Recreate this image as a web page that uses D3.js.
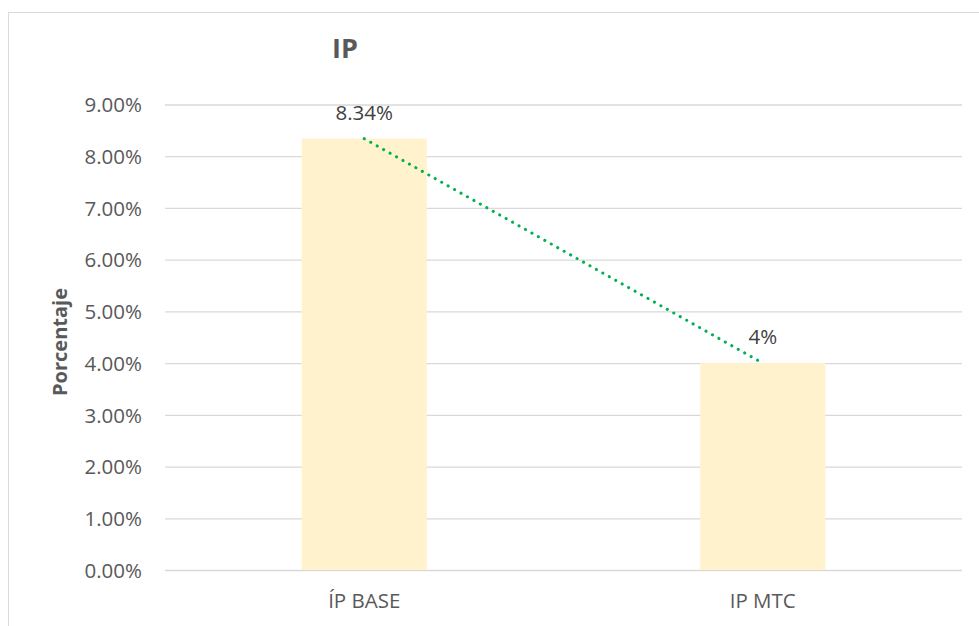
<!DOCTYPE html>
<html>
<head>
  <meta charset="utf-8">
  <script src="https://d3js.org/d3.v7.min.js"></script>
  <style type="text/css">
  body { margin: 0; background: #fff; }
  svg { display: block; font-family: "Open Sans", sans-serif; }
  .grid line { stroke: #d9d9d9; stroke-width: 1.3; }
  .grid path { display: none; }
  .yaxis path, .yaxis line { display: none; }
  .xaxis path, .xaxis line { display: none; }
  .yaxis text, .xaxis text { fill: #595959; font-size: 20.5px; font-family: "Open Sans", sans-serif; }
  </style>
</head>
<body>
  <script type="text/javascript">
    // chart data
    var categories = ["ÍP BASE", "IP MTC"];
    var values = [8.34, 4];
    var valueLabels = ["8.34%", "4%"];
    var yTicks = [0, 1, 2, 3, 4, 5, 6, 7, 8, 9];

    var width = 979, height = 626;
    var margin = {top: 104.5, right: 17, bottom: 56, left: 165};

    var svg = d3.select("body").append("svg")
      .attr("width", width)
      .attr("height", height);

    // chart border (only left and top visible in the frame)
    svg.append("rect")
      .attr("x", 8.5).attr("y", 12.5)
      .attr("width", 1000).attr("height", 700)
      .attr("fill", "none")
      .attr("stroke", "#d9d9d9")
      .attr("stroke-width", 1);

    var x = d3.scaleBand()
      .domain(categories)
      .range([margin.left, width - margin.right])
      .paddingInner(0.686)
      .paddingOuter(0.343);

    var y = d3.scaleLinear()
      .domain([0, 9])
      .range([height - margin.bottom, margin.top]);

    // gridlines
    svg.append("g")
      .attr("class", "grid")
      .attr("transform", "translate(" + margin.left + ",0)")
      .call(d3.axisRight(y).tickValues(yTicks).tickSize(width - margin.right - margin.left).tickFormat(""));

    // y axis labels
    svg.append("g")
      .attr("class", "yaxis")
      .attr("transform", "translate(" + (margin.left - 23) + ",0)")
      .call(d3.axisLeft(y).tickValues(yTicks).tickSize(0).tickPadding(0).tickFormat(function(d) { return d3.format(".2f")(d) + "%"; }))
      .selectAll("text").attr("dy", "0.35em");

    // bars
    svg.selectAll(".bar")
      .data(values)
      .enter().append("rect")
      .attr("class", "bar")
      .attr("x", function(d, i) { return x(categories[i]); })
      .attr("width", x.bandwidth())
      .attr("y", function(d) { return y(d); })
      .attr("height", function(d) { return y(0) - y(d); })
      .attr("fill", "#fff2cc");

    // x axis labels
    svg.append("g")
      .attr("class", "xaxis")
      .attr("transform", "translate(0," + y(0) + ")")
      .call(d3.axisBottom(x).tickSize(0).tickPadding(23));

    // dotted trend line between bar tops
    var line = d3.line()
      .x(function(d, i) { return x(categories[i]) + x.bandwidth() / 2; })
      .y(function(d) { return y(d); });

    svg.append("path")
      .datum(values)
      .attr("d", line)
      .attr("fill", "none")
      .attr("stroke", "#00b050")
      .attr("stroke-width", 3)
      .attr("stroke-linecap", "round")
      .attr("stroke-dasharray", "0.1 7.3");

    // value labels
    svg.selectAll(".vlabel")
      .data(values)
      .enter().append("text")
      .attr("class", "vlabel")
      .attr("x", function(d, i) { return x(categories[i]) + x.bandwidth() / 2; })
      .attr("y", function(d) { return y(d) - 19; })
      .attr("text-anchor", "middle")
      .attr("fill", "#404040")
      .style("font-size", "20.5px")
      .text(function(d, i) { return valueLabels[i]; });

    // title
    svg.append("text")
      .attr("x", 345)
      .attr("y", 58)
      .attr("text-anchor", "middle")
      .attr("font-weight", "bold")
      .attr("fill", "#595959")
      .style("font-size", "27px")
      .text("IP");

    // y axis title
    svg.append("text")
      .attr("transform", "translate(67," + 342 + ") rotate(-90)")
      .attr("text-anchor", "middle")
      .attr("font-weight", "bold")
      .attr("fill", "#595959")
      .style("font-size", "20px")
      .text("Porcentaje");
  </script>
</body>
</html>
